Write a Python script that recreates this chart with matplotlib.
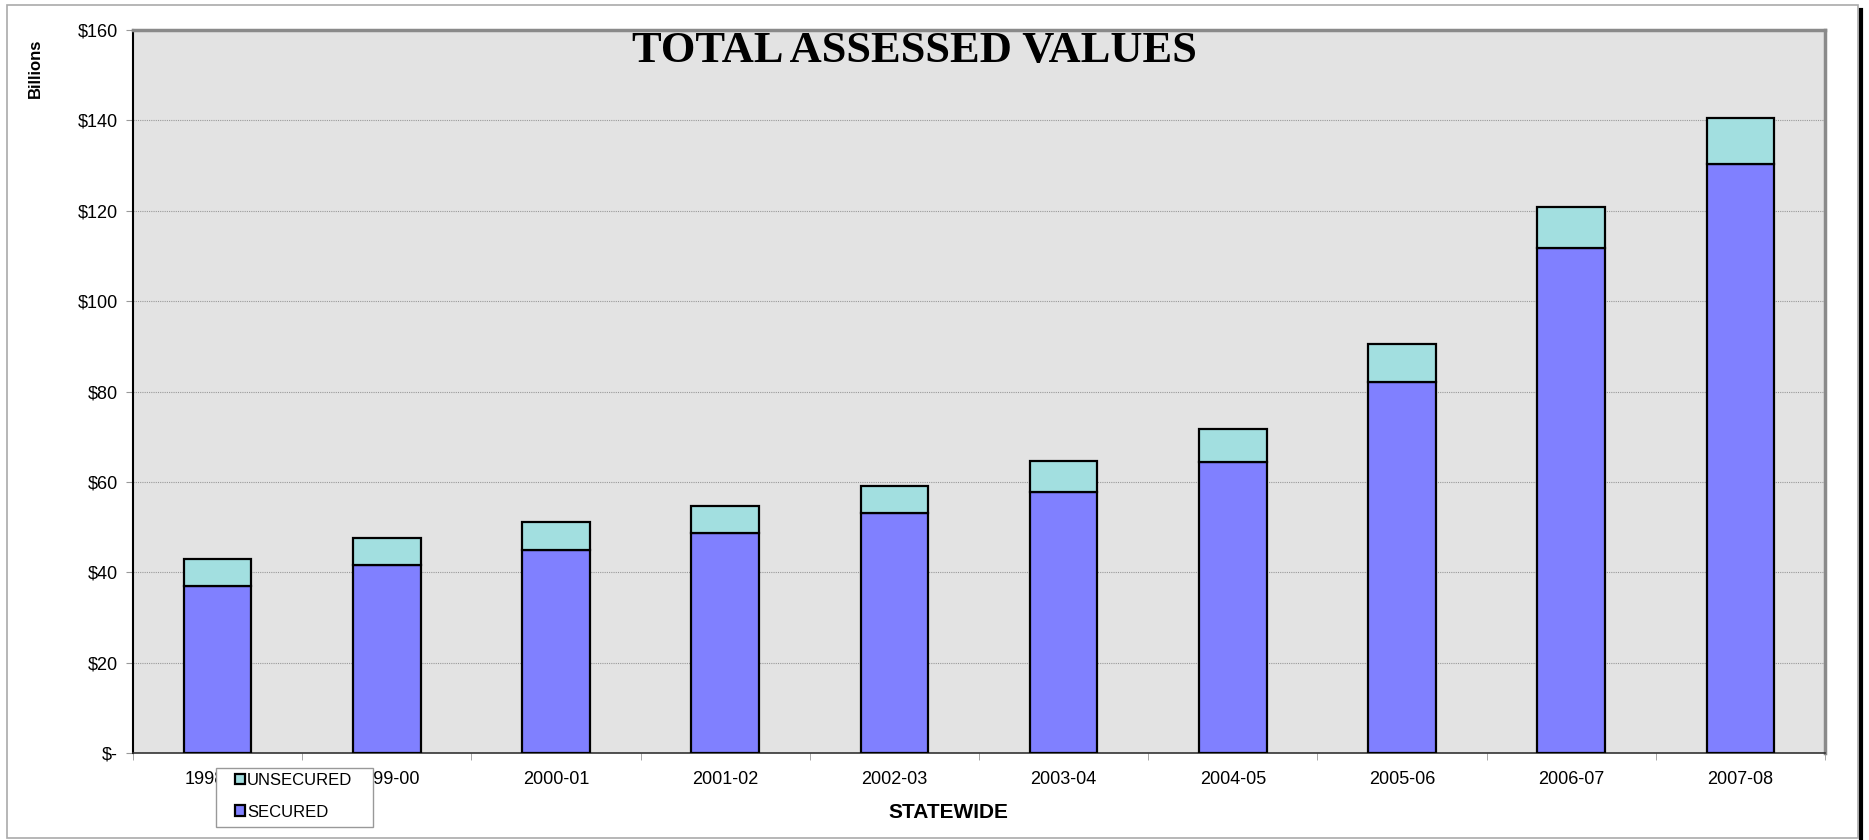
import matplotlib.pyplot as plt
import numpy as np
from matplotlib.patches import Rectangle
from matplotlib.lines import Line2D
from matplotlib.ticker import FuncFormatter, FixedLocator

years = ['1998-99', '1999-00', '2000-01', '2001-02', '2002-03',
         '2003-04', '2004-05', '2005-06', '2006-07', '2007-08']
secured = [37.0, 41.5, 44.9, 48.6, 53.1, 57.8, 64.4, 82.1, 111.8, 130.4]
unsecured = [6.0, 6.0, 6.3, 6.1, 6.0, 6.9, 7.4, 8.4, 9.1, 10.1]

W, H = 1869, 840
fig = plt.figure(figsize=(W / 100, H / 100), dpi=100)
fig.patch.set_facecolor('white')

# plot area in pixels: left 133, right 1825, top 30, bottom 753
ax = fig.add_axes([133 / W, 1 - 753 / H, (1825 - 133) / W, (753 - 30) / H])
ax.set_facecolor('#e3e3e3')

x = np.arange(len(years))
ax.bar(x, secured, width=0.4, color='#8080ff', edgecolor='black', linewidth=1.6,
       label='SECURED', zorder=3)
ax.bar(x, unsecured, width=0.4, bottom=secured, color='#a2dfe0', edgecolor='black',
       linewidth=1.6, label='UNSECURED', zorder=3)

ax.set_xlim(-0.5, len(years) - 0.5)
ax.set_ylim(0, 160)
ax.set_yticks(np.arange(0, 161, 20))
ax.yaxis.set_major_formatter(FuncFormatter(lambda v, p: '$-' if v == 0 else '${:.0f}'.format(v)))
ax.grid(axis='y', color='#999999', linestyle=(0, (1, 1)), linewidth=0.8, zorder=0)

ax.set_xticks(x)
ax.set_xticklabels(years)
ax.xaxis.set_minor_locator(FixedLocator(np.arange(-0.5, len(years), 1.0)))
ax.tick_params(axis='x', which='major', length=0, pad=13, labelsize=13)
ax.tick_params(axis='x', which='minor', length=5, color='#999999')
ax.tick_params(axis='y', length=5, color='#999999', pad=6, labelsize=13)

for lab in ax.get_xticklabels() + ax.get_yticklabels():
    lab.set_fontfamily('Liberation Sans')

ax.spines['left'].set_color('black')
ax.spines['left'].set_linewidth(1.5)
ax.spines['bottom'].set_color('#333333')
ax.spines['bottom'].set_linewidth(1.2)
for s in ['top', 'right']:
    ax.spines[s].set_color('#8a8a8a')
    ax.spines[s].set_linewidth(2.5)

ax.text(0.462, 0.956, 'TOTAL ASSESSED VALUES', transform=ax.transAxes,
        ha='center', va='baseline', fontsize=32, fontweight='bold',
        family='Liberation Serif', zorder=5)

fig.text(35 / W, 1 - 68 / H, 'Billions', rotation=90, ha='center', va='center',
         fontsize=12, fontweight='bold', family='Liberation Sans')
fig.text(948 / W, 1 - 812 / H, 'STATEWIDE', ha='center', va='center',
         fontsize=15, fontweight='bold', family='Liberation Sans')

# legend box drawn by hand, covering part of the first tick label
fig.add_artist(Rectangle((216 / W, 1 - 827 / H), (373 - 216) / W, (827 - 768) / H,
                         transform=fig.transFigure, facecolor='white',
                         edgecolor='#999999', linewidth=1.0, zorder=9))
h, l = ax.get_legend_handles_labels()
leg = fig.legend([h[1], h[0]], [l[1], l[0]], loc='upper left',
                 bbox_to_anchor=(235 / W, 1 - 773 / H), borderaxespad=0,
                 prop={'family': 'Liberation Sans', 'size': 12},
                 handlelength=0.6, handleheight=0.6, handletextpad=0.12,
                 borderpad=0, labelspacing=1.0, frameon=False)
leg.set_zorder(10)

# outer border and shadow
fig.add_artist(Rectangle((7 / W, 1 - 838 / H), (1858 - 7) / W, (838 - 5) / H,
                         transform=fig.transFigure, fill=False,
                         edgecolor='#aaaaaa', linewidth=1.2))
fig.add_artist(Line2D([1861 / W, 1861 / W], [0, 1 - 10 / H],
                      transform=fig.transFigure, color='black', linewidth=3))

fig.savefig('out.png', dpi=100)
